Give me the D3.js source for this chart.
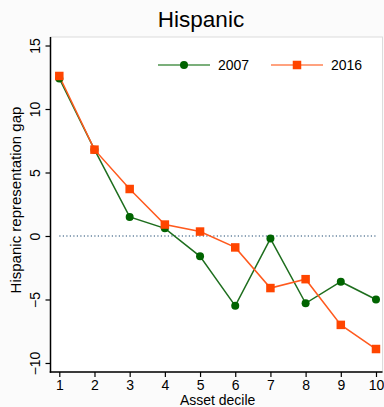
<!DOCTYPE html>
<html>
<head>
<meta charset="utf-8">
<script src="https://cdn.jsdelivr.net/npm/d3@7"></script>
<style>
  html, body { margin: 0; padding: 0; background: #fbfbfb; }
  svg { display: block; font-family: "Liberation Sans", Arial, Helvetica, sans-serif; }
</style>
</head>
<body>
<svg id="chart" width="384" height="407"></svg>
<script>
// Asset deciles and the Hispanic representation gap in each survey year
const deciles = [1, 2, 3, 4, 5, 6, 7, 8, 9, 10];
const gap2007 = [12.4, 6.8, 1.5, 0.6, -1.6, -5.5, -0.2, -5.3, -3.6, -5.0];
const gap2016 = [12.6, 6.8, 3.7, 0.9, 0.35, -0.9, -4.1, -3.4, -7.0, -8.9];
const yTicks = [-10, -5, 0, 5, 10, 15];
const seriesNames = ["2007", "2016"];

const svg = d3.select("#chart");
const plot = { left: 50.5, right: 382.5, top: 37, bottom: 372 };

const x = d3.scaleLinear().domain([0.75, 10.185]).range([plot.left, plot.right]);
const y = d3.scaleLinear().domain([-10.71, 15.67]).range([plot.bottom, plot.top]);

const green = "#006400", greenLine = "#1e6e1e";
const orange = "#ff4500", orangeLine = "#ff5a1e";

// plot region
svg.append("rect")
  .attr("x", plot.left).attr("y", plot.top)
  .attr("width", plot.right - plot.left).attr("height", plot.bottom - plot.top)
  .attr("fill", "#ffffff").attr("stroke", "#dcdcdc").attr("stroke-width", 1);

// title
svg.append("text")
  .attr("x", 201).attr("y", 27)
  .attr("text-anchor", "middle")
  .attr("font-size", 22.5).attr("fill", "#000")
  .text("Hispanic");

// reference line at zero
svg.append("line")
  .attr("x1", x(1)).attr("x2", x(10))
  .attr("y1", y(0)).attr("y2", y(0))
  .attr("stroke", "#1a476f").attr("stroke-width", 1.2)
  .attr("stroke-dasharray", "1.2,2.3");

// axes
const yAxis = d3.axisLeft(y).tickValues(yTicks).tickSize(5).tickPadding(4).tickFormat(d3.format("d"));
const yG = svg.append("g").attr("transform", `translate(${plot.left},0)`).call(yAxis);
yG.select(".domain").remove();
yG.selectAll(".tick line").attr("stroke", "#000").attr("stroke-width", 1.2);
yG.selectAll(".tick text")
  .attr("font-size", 14).attr("fill", "#000")
  .attr("text-anchor", "middle")
  .attr("x", null)
  .attr("transform", "translate(-15,0) rotate(-90)")
  .attr("y", 0).attr("dy", "0.35em");

const xAxis = d3.axisBottom(x).tickValues(deciles).tickSize(5).tickPadding(3).tickFormat(d3.format("d"));
const xG = svg.append("g").attr("transform", `translate(0,${plot.bottom})`).call(xAxis);
xG.select(".domain").remove();
xG.selectAll(".tick line").attr("stroke", "#000").attr("stroke-width", 1.2);
xG.selectAll(".tick text").attr("font-size", 14).attr("fill", "#000");

// axis lines
svg.append("line").attr("x1", plot.left).attr("x2", plot.left)
  .attr("y1", plot.top).attr("y2", plot.bottom + 0.75)
  .attr("stroke", "#000").attr("stroke-width", 1.5);
svg.append("line").attr("x1", plot.left - 0.75).attr("x2", plot.right)
  .attr("y1", plot.bottom).attr("y2", plot.bottom)
  .attr("stroke", "#000").attr("stroke-width", 1.5);

// axis titles
svg.append("text")
  .attr("transform", `translate(21,200) rotate(-90)`)
  .attr("text-anchor", "middle").attr("font-size", 15).attr("fill", "#000")
  .text("Hispanic representation gap");
svg.append("text")
  .attr("x", (x(1) + x(10)) / 2).attr("y", 404.5)
  .attr("text-anchor", "middle").attr("font-size", 14).attr("fill", "#000")
  .text("Asset decile");

// series
const line = d3.line().x((d, i) => x(deciles[i])).y(d => y(d));

svg.append("path").datum(gap2007)
  .attr("d", line).attr("fill", "none")
  .attr("stroke", greenLine).attr("stroke-width", 1.5);
svg.append("path").datum(gap2016)
  .attr("d", line).attr("fill", "none")
  .attr("stroke", orangeLine).attr("stroke-width", 1.5);

svg.append("g").selectAll("circle").data(gap2007).join("circle")
  .attr("cx", (d, i) => x(deciles[i])).attr("cy", d => y(d))
  .attr("r", 4).attr("fill", green);

const sq = 8.5;
svg.append("g").selectAll("rect").data(gap2016).join("rect")
  .attr("x", (d, i) => x(deciles[i]) - sq / 2).attr("y", d => y(d) - sq / 2)
  .attr("width", sq).attr("height", sq).attr("fill", orange);

// legend
const legY = 65;
const leg = svg.append("g");
leg.append("line").attr("x1", 158).attr("x2", 210).attr("y1", legY).attr("y2", legY)
  .attr("stroke", "#4f944f").attr("stroke-width", 1.6);
leg.append("circle").attr("cx", 184).attr("cy", legY).attr("r", 4).attr("fill", green);
leg.append("text").attr("x", 218).attr("y", legY).attr("dy", "0.36em")
  .attr("font-size", 14).attr("fill", "#000").text(seriesNames[0]);

leg.append("line").attr("x1", 271).attr("x2", 323).attr("y1", legY).attr("y2", legY)
  .attr("stroke", "#ff8355").attr("stroke-width", 1.6);
leg.append("rect").attr("x", 297 - sq / 2).attr("y", legY - sq / 2)
  .attr("width", sq).attr("height", sq).attr("fill", orange);
leg.append("text").attr("x", 331).attr("y", legY).attr("dy", "0.36em")
  .attr("font-size", 14).attr("fill", "#000").text(seriesNames[1]);
</script>
</body>
</html>
